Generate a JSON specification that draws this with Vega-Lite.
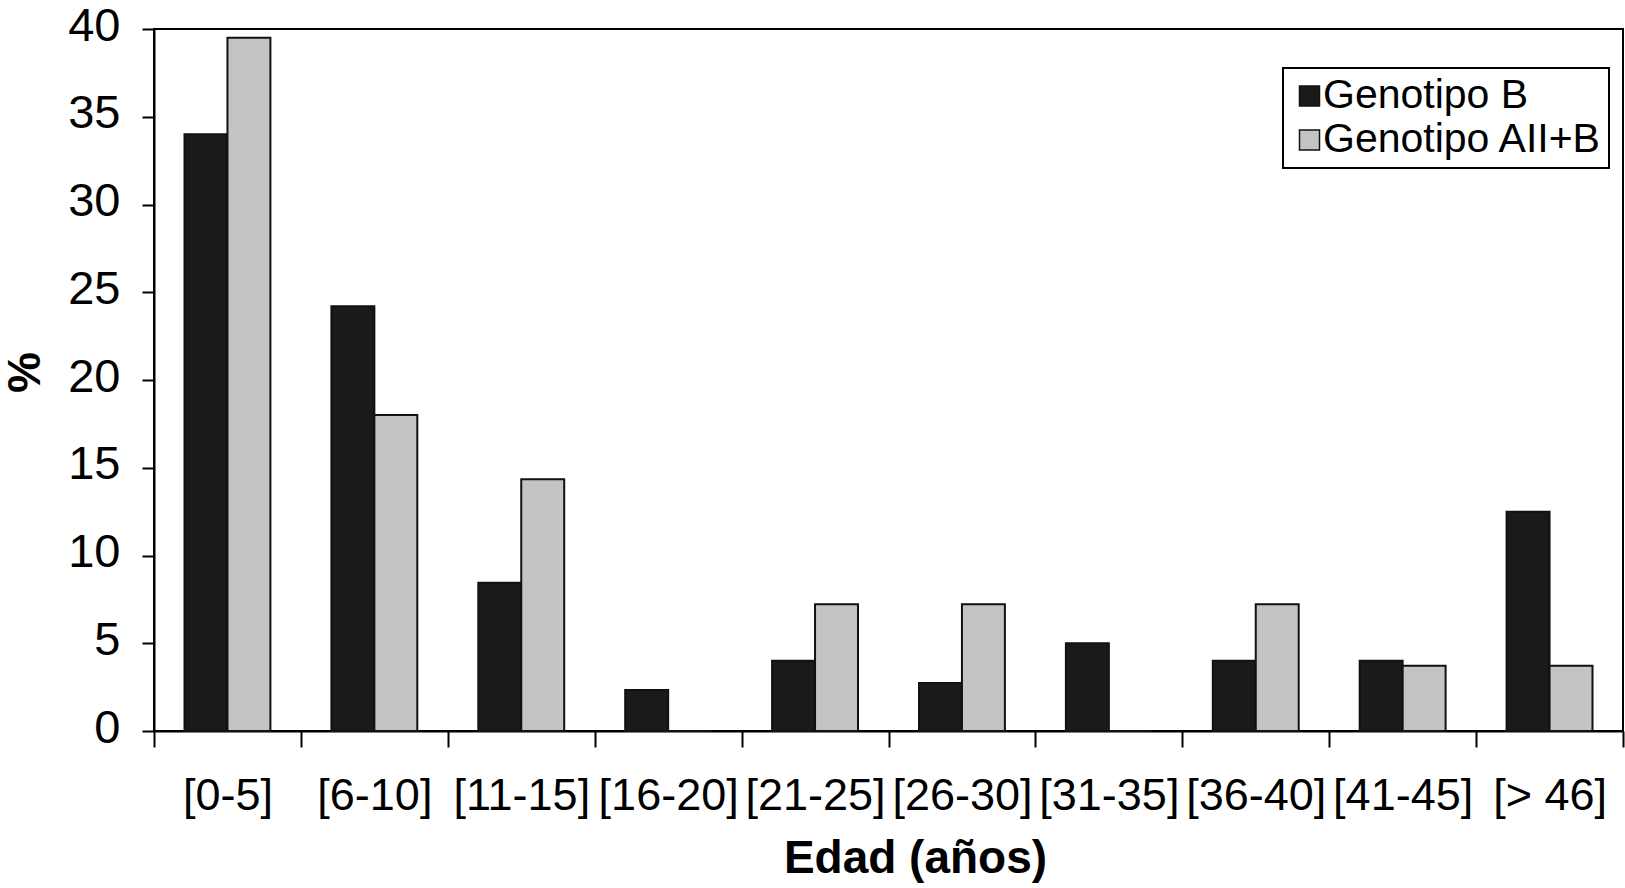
{
  "$schema": "https://vega.github.io/schema/vega-lite/v6.json",
  "width": 1469,
  "height": 702,
  "autosize": {"type": "none"},
  "padding": {"left": 154, "top": 29, "right": 2, "bottom": 157},
  "background": "white",
  "config": {
    "font": "Liberation Sans",
    "view": {"stroke": "black", "strokeWidth": 2}
  },
  "data": {
    "values": [
      {"edad": "[0-5]", "genotipo": "Genotipo B", "pct": 34.0},
      {"edad": "[0-5]", "genotipo": "Genotipo AII+B", "pct": 39.5},
      {"edad": "[6-10]", "genotipo": "Genotipo B", "pct": 24.2},
      {"edad": "[6-10]", "genotipo": "Genotipo AII+B", "pct": 18.0},
      {"edad": "[11-15]", "genotipo": "Genotipo B", "pct": 8.45},
      {"edad": "[11-15]", "genotipo": "Genotipo AII+B", "pct": 14.35},
      {"edad": "[16-20]", "genotipo": "Genotipo B", "pct": 2.33},
      {"edad": "[16-20]", "genotipo": "Genotipo AII+B", "pct": 0},
      {"edad": "[21-25]", "genotipo": "Genotipo B", "pct": 4.0},
      {"edad": "[21-25]", "genotipo": "Genotipo AII+B", "pct": 7.22},
      {"edad": "[26-30]", "genotipo": "Genotipo B", "pct": 2.74},
      {"edad": "[26-30]", "genotipo": "Genotipo AII+B", "pct": 7.22},
      {"edad": "[31-35]", "genotipo": "Genotipo B", "pct": 5.0},
      {"edad": "[31-35]", "genotipo": "Genotipo AII+B", "pct": 0},
      {"edad": "[36-40]", "genotipo": "Genotipo B", "pct": 4.0},
      {"edad": "[36-40]", "genotipo": "Genotipo AII+B", "pct": 7.22},
      {"edad": "[41-45]", "genotipo": "Genotipo B", "pct": 4.0},
      {"edad": "[41-45]", "genotipo": "Genotipo AII+B", "pct": 3.72},
      {"edad": "[> 46]", "genotipo": "Genotipo B", "pct": 12.5},
      {"edad": "[> 46]", "genotipo": "Genotipo AII+B", "pct": 3.72}
    ]
  },
  "mark": {"type": "bar", "stroke": "#111111", "strokeWidth": 2},
  "encoding": {
    "x": {
      "field": "edad",
      "type": "nominal",
      "sort": null,
      "scale": {"paddingInner": 0, "paddingOuter": 0},
      "axis": {
        "title": "Edad (años)",
        "labelAngle": 0,
        "tickBand": "extent",
        "tickSize": 16,
        "tickWidth": 2,
        "tickColor": "black",
        "domainColor": "black",
        "domainWidth": 2,
        "labelFontSize": 45,
        "labelColor": "black",
        "labelPadding": 26,
        "labelOverlap": false,
        "titleFontSize": 46,
        "titleFontWeight": "bold",
        "titleColor": "black",
        "titlePadding": 18,
        "titleX": 761
      }
    },
    "xOffset": {
      "field": "genotipo",
      "sort": ["Genotipo B", "Genotipo AII+B"],
      "scale": {"paddingInner": 0, "paddingOuter": 0.71}
    },
    "y": {
      "field": "pct",
      "type": "quantitative",
      "scale": {"domain": [0, 40], "nice": false},
      "axis": {
        "values": [0, 5, 10, 15, 20, 25, 30, 35, 40],
        "title": "%",
        "grid": false,
        "tickSize": 12,
        "tickWidth": 2,
        "tickColor": "black",
        "domainColor": "black",
        "domainWidth": 2,
        "labelFontSize": 47,
        "labelColor": "black",
        "labelPadding": 22,
        "labelOffset": -3,
        "titleFontSize": 46,
        "titleFontWeight": "bold",
        "titleColor": "black",
        "titlePadding": 18,
        "titleY": 343
      }
    },
    "color": {
      "field": "genotipo",
      "type": "nominal",
      "sort": ["Genotipo B", "Genotipo AII+B"],
      "scale": {"domain": ["Genotipo B", "Genotipo AII+B"], "range": ["#1a1a1a", "#c4c4c4"]},
      "legend": {
        "title": null,
        "orient": "none",
        "legendX": 1129,
        "legendY": 39,
        "padding": 6,
        "strokeColor": "black",
        "fillColor": "white",
        "symbolType": "square",
        "symbolSize": 400,
        "symbolStrokeColor": "#111111",
        "symbolStrokeWidth": 1.5,
        "symbolOpacity": 1,
        "labelFontSize": 41,
        "labelColor": "black",
        "labelOffset": -7,
        "labelLimit": 400,
        "clipHeight": 44,
        "rowPadding": 0,
        "encode": {"legend": {"update": {"strokeWidth": {"value": 2}}}}
      }
    }
  }
}
